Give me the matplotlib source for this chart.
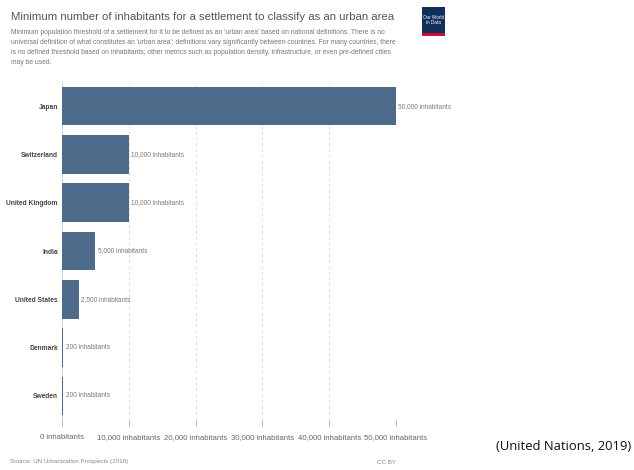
import matplotlib.pyplot as plt
from matplotlib.patches import Rectangle

countries = ['Japan', 'Switzerland', 'United Kingdom', 'India', 'United States', 'Denmark', 'Sweden']
thresholds = [50000, 10000, 10000, 5000, 2500, 200, 200]
tick_values = [0, 10000, 20000, 30000, 40000, 50000]

title = 'Minimum number of inhabitants for a settlement to classify as an urban area'
subtitle = ("Minimum population threshold of a settlement for it to be defined as an 'urban area' based on national definitions. There is no\n"
            "universal definition of what constitutes an 'urban area'; definitions vary significantly between countries. For many countries, there\n"
            "is no defined threshold based on inhabitants; other metrics such as population density, infrastructure, or even pre-defined cities\n"
            "may be used.")

plt.rcParams['font.family'] = ['Liberation Sans', 'DejaVu Sans']

fig = plt.figure(figsize=(6.34, 4.70), dpi=100)
fig.patch.set_facecolor('white')
ax = fig.add_axes([62 / 634, 1 - 420 / 470, (396 - 62) / 634, (420 - 82) / 470])

y = list(range(len(countries)))
ax.barh(y, thresholds, height=0.8, color='#4d6a8b', zorder=3)
for yi, v in zip(y, thresholds):
    ax.text(v + 350, yi, f'{v:,} inhabitants', va='center', ha='left',
            fontsize=4.7, color='#7a7a7a')

ax.set_yticks(y)
ax.set_yticklabels(countries, fontsize=4.8, color='#444444', fontweight='bold')
ax.set_ylim(len(countries) - 0.5, -0.5)
ax.set_xlim(0, 50000)
ax.set_xticks(tick_values)
ax.set_xticklabels([f'{t:,} inhabitants' for t in tick_values], fontsize=5.6, color='#666666')
ax.tick_params(axis='y', length=0, pad=3)
ax.tick_params(axis='x', length=4, color='#bbbbbb', pad=6)
ax.grid(True, axis='x', color='#dddddd', linestyle=(0, (3, 3)), linewidth=0.7, zorder=0)
for s in ['top', 'right', 'bottom']:
    ax.spines[s].set_visible(False)
ax.spines['left'].set_color('#cccccc')
ax.spines['left'].set_linewidth(0.6)

fig.text(11 / 634, 1 - 17 / 470, title, fontsize=8.2, color='#555555', va='center', ha='left')
fig.text(11 / 634, 1 - 29 / 470, subtitle, fontsize=4.9, color='#777777', va='top', ha='left',
         linespacing=1.6)

# logo
fig.patches.append(Rectangle((422 / 634, 1 - 36 / 470), 23 / 634, 29 / 470, transform=fig.transFigure,
                             facecolor='#10305a', edgecolor='none'))
fig.patches.append(Rectangle((422 / 634, 1 - 36 / 470), 23 / 634, 3 / 470, transform=fig.transFigure,
                             facecolor='#c8102e', edgecolor='none'))
fig.text(433.5 / 634, 1 - 20 / 470, 'Our World\nin Data', fontsize=3.3, color='white', ha='center',
         va='center', linespacing=1.2)

fig.text(10 / 634, 1 - 462 / 470, 'Source: UN Urbanization Prospects (2018)', fontsize=4.5,
         color='#888888', va='center', ha='left')
fig.text(396 / 634, 1 - 462 / 470, 'CC BY', fontsize=4.5, color='#888888', va='center', ha='right')
fig.text(631 / 634, 1 - 447 / 470, '(United Nations, 2019)', fontsize=9.4, color='#111111',
         va='center', ha='right', family=['Open Sans', 'DejaVu Sans'])

fig.savefig('out.png', dpi=100, facecolor='white')
